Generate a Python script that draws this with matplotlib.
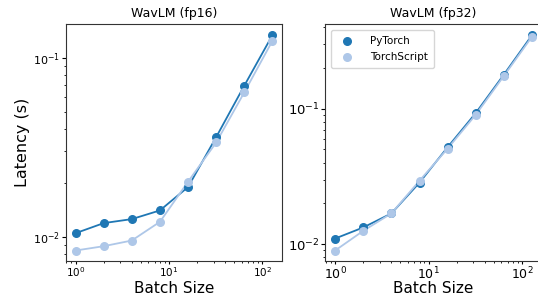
import matplotlib
matplotlib.use("Agg")
import matplotlib.pyplot as plt

batch_sizes = [1, 2, 4, 8, 16, 32, 64, 128]

fp16_pytorch = [0.01048, 0.01193, 0.01256, 0.01404, 0.01897, 0.0360, 0.0697, 0.1334]
fp16_torchscript = [0.00839, 0.00887, 0.00954, 0.01213, 0.0203, 0.0336, 0.0640, 0.124]

fp32_pytorch = [0.01101, 0.01329, 0.01687, 0.0285, 0.0520, 0.0929, 0.1786, 0.349]
fp32_torchscript = [0.00898, 0.01255, 0.01687, 0.0294, 0.0508, 0.0903, 0.1746, 0.340]

titles = ["WavLM (fp16)", "WavLM (fp32)"]
series_names = ["PyTorch", "TorchScript"]
colors = ["#1f77b4", "#aec7e8"]

fig = plt.figure(figsize=(5.38, 2.99), dpi=100)
W, H = 538, 299
ax1 = fig.add_axes([65.7 / W, 1 - 261.3 / H, 216.6 / W, 237.0 / H])
ax2 = fig.add_axes([325.3 / W, 1 - 261.3 / H, 216.6 / W, 237.0 / H])

ytick_sizes = [8, 9.5]
xtick_sizes = [7.5, 9]
panels = [(ax1, fp16_pytorch, fp16_torchscript), (ax2, fp32_pytorch, fp32_torchscript)]
for i, (ax, pt, ts) in enumerate(panels):
    for vals, c, name in zip([pt, ts], colors, series_names):
        ax.plot(batch_sizes, vals, color=c, lw=1.3, zorder=2)
        ax.scatter(batch_sizes, vals, color=c, s=30, label=name, zorder=3)
    ax.set_xscale("log")
    ax.set_yscale("log")
    ax.set_title(titles[i], fontsize=9, pad=5)
    ax.set_xlabel("Batch Size", fontsize=11)
    ax.xaxis.set_label_coords(0.5, -0.084)
    ax.tick_params(axis="y", which="major", labelsize=ytick_sizes[i], pad=1, length=3)
    ax.tick_params(axis="x", which="major", labelsize=xtick_sizes[i], pad=0.5, length=2.5)
    ax.tick_params(which="minor", length=1.5)
    for s in ax.spines.values():
        s.set_color("#333333")

ax1.set_ylabel("Latency (s)", fontsize=11.5, labelpad=2)
ax2.legend(loc="upper left", fontsize=7.5, handletextpad=1.2, borderpad=0.6,
           labelspacing=0.6)

fig.savefig("out.png", dpi=100)
